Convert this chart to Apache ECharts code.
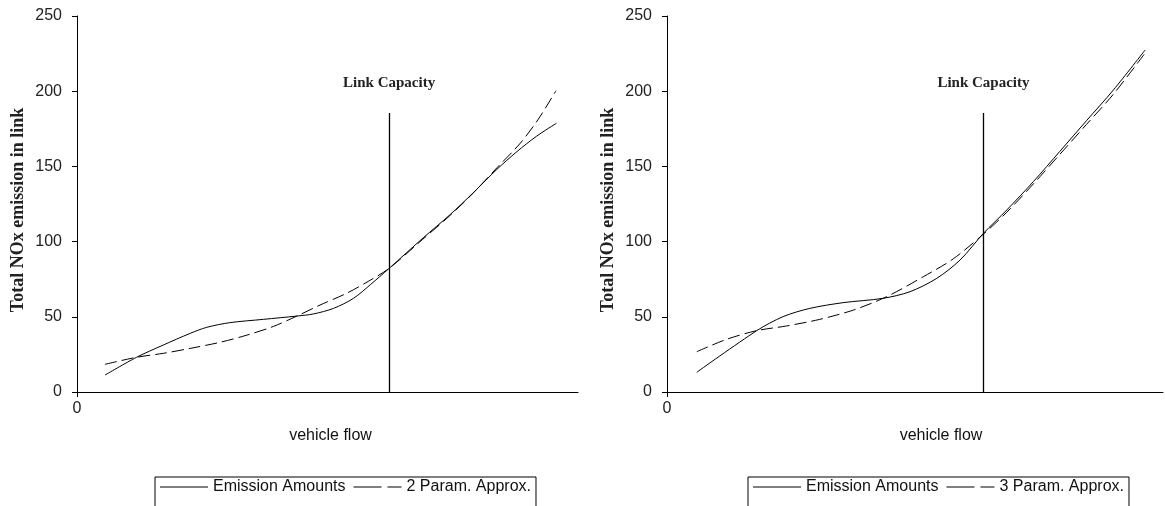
<!DOCTYPE html>
<html>
<head>
<meta charset="utf-8">
<script src="https://cdn.jsdelivr.net/npm/echarts@6/dist/echarts.min.js"></script>
<style>
html,body{margin:0;padding:0;background:#fff;}
#chart{width:1165px;height:506px;}
</style>
</head>
<body>
<div id="chart"></div>
<script>
// ---- data (x: vehicle flow, 0..100 relative units; y: total NOx emission) ----
const yTicks = [0, 50, 100, 150, 200, 250];
const xTickLabels = [0];
const linkCapacityLeft = 62.3;
const linkCapacityRight = 63.8;
const linkLineTop = 185.5;

const leftEmission = [
  [5.6, 11.3], [11.9, 23.1], [17.2, 31.2], [22.6, 39.0], [25.9, 43.0],
  [30.5, 46.1], [37.2, 48.3], [43.9, 50.5], [47.2, 51.9], [51.2, 55.6],
  [55.2, 62.3], [58.6, 71.5], [62.3, 82.2], [69.1, 102.5], [74.5, 118.0],
  [79.1, 132.5], [83.8, 148.0], [87.8, 159.8], [91.7, 170.0], [95.7, 178.7]
];
const left2Param = [
  [5.6, 18.4], [11.9, 23.1], [17.2, 25.7], [22.6, 29.0], [28.5, 33.0],
  [33.9, 37.8], [39.2, 43.6], [43.9, 50.5], [48.5, 57.8], [53.8, 65.6],
  [58.1, 73.5], [62.3, 82.2], [69.0, 101.5], [74.5, 117.5], [79.0, 132.0],
  [83.8, 149.0], [88.5, 165.5], [92.0, 181.0], [95.6, 200.3]
];
const rightEmission = [
  [6.0, 13.1], [18.1, 40.8], [23.4, 50.1], [28.8, 55.6], [35.5, 59.4],
  [43.6, 62.3], [49.0, 66.7], [54.4, 75.6], [59.1, 87.8], [63.8, 105.5],
  [68.5, 121.0], [73.9, 140.0], [79.2, 160.0], [84.6, 180.5], [90.0, 200.8],
  [96.4, 227.4]
];
const right3Param = [
  [6.0, 26.8], [12.0, 35.0], [18.1, 40.8], [24.1, 43.9], [30.8, 48.3],
  [37.6, 54.5], [44.3, 63.4], [51.7, 76.7], [57.7, 88.5], [63.8, 105.0],
  [68.5, 119.5], [73.9, 138.5], [79.2, 158.0], [84.6, 178.0], [90.0, 198.0],
  [96.2, 224.5]
];

const names = ['Emission Amounts', '2 Param. Approx.', '3 Param. Approx.'];
const yName = 'Total NOx emission in link';
const xName = 'vehicle flow';
const capLabel = 'Link Capacity';

const chart = echarts.init(document.getElementById('chart'), null, {renderer: 'canvas'});

const sans = 'Liberation Sans, Arial, sans-serif';
const serif = 'Liberation Serif, Times New Roman, serif';

const solidIcon = 'path://M0,0H48V1H0Z';
const dashIcon = 'path://M0,0H28V1H0Z M34,0H48V1H34Z';

function xAxis(gi, shift) {
  return {
    type: 'value', gridIndex: gi, min: 0, max: 100, interval: 100,
    name: xName, nameLocation: 'middle', nameGap: 36,
    nameTextStyle: {fontFamily: sans, fontSize: 16, color: '#111', padding: [0, 0, 0, shift]},
    axisLine: {show: true, lineStyle: {color: '#000', width: 1}},
    axisTick: {show: true, length: 5, customValues: xTickLabels, lineStyle: {color: '#000'}},
    axisLabel: {show: true, customValues: xTickLabels, margin: 9, fontFamily: sans, fontSize: 16, color: '#222',
      formatter: v => v === 0 ? '0' : ''},
    splitLine: {show: false}
  };
}
function yAxis(gi) {
  return {
    type: 'value', gridIndex: gi, min: yTicks[0], max: yTicks[yTicks.length - 1], interval: 50,
    name: yName, nameLocation: 'middle', nameRotate: 90, nameGap: 50,
    nameTextStyle: {fontFamily: serif, fontSize: 18, fontWeight: 'bold', color: '#222', padding: [0, 12, 0, 0]},
    axisLine: {show: true, lineStyle: {color: '#000', width: 1}},
    axisTick: {show: true, length: 5, inside: false, lineStyle: {color: '#000'}},
    axisLabel: {margin: 15, fontFamily: sans, fontSize: 16, color: '#222'},
    splitLine: {show: false}
  };
}
function capLine(x) {
  return {
    silent: true, symbol: 'none',
    lineStyle: {color: '#000', type: 'solid', width: 1.3},
    label: {show: true, position: 'end', distance: 22, formatter: capLabel,
      fontFamily: serif, fontSize: 15, fontWeight: 'bold', color: '#222'},
    data: [[{coord: [x, 0]}, {coord: [x, linkLineTop]}]]
  };
}
function legend(left, dashedName) {
  return {
    data: [{name: names[0], icon: solidIcon}, {name: dashedName, icon: dashIcon}],
    left: left, top: 477, orient: 'horizontal',
    itemWidth: 48, itemHeight: 1, itemGap: 8,
    itemStyle: {borderWidth: 0},
    borderColor: '#000', borderWidth: 1, borderRadius: 0, padding: [2, 5, 20, 5],
    textStyle: {fontFamily: sans, fontSize: 16, color: '#111'}
  };
}
const solid = {color: '#000', width: 1, type: 'solid'};
const dashed = {color: '#000', width: 1, type: [12, 5]};

function curve(name, gi, data, style, mark) {
  const s = {name: name, type: 'line', xAxisIndex: gi, yAxisIndex: gi, smooth: 0.3,
    symbol: 'none', lineStyle: style, itemStyle: {color: '#000'}, data: data};
  if (mark) s.markLine = mark;
  return s;
}

chart.setOption({
  animation: false,
  backgroundColor: '#fff',
  grid: [
    {left: 77, right: 587, top: 16, bottom: 114},
    {left: 667, right: 2, top: 16, bottom: 114}
  ],
  xAxis: [xAxis(0, 6), xAxis(1, 52)],
  yAxis: [yAxis(0), yAxis(1)],
  legend: [legend(155, names[1]), legend(748, names[2])],
  series: [
    curve(names[0], 0, leftEmission, solid, capLine(linkCapacityLeft)),
    curve(names[1], 0, left2Param, dashed),
    curve(names[0], 1, rightEmission, solid, capLine(linkCapacityRight)),
    curve(names[2], 1, right3Param, dashed)
  ]
});
</script>
</body>
</html>
